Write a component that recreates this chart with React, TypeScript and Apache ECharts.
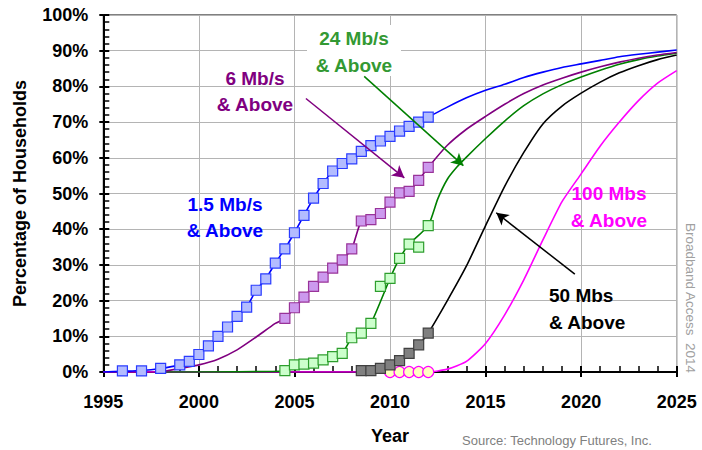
import React, { useEffect, useRef } from "react";
import * as echarts from "echarts";

// ---- Data ----
// 1.5 Mb/s & Above (actual)
const blueYears = [1996, 1997, 1998, 1999, 1999.5, 2000, 2000.5, 2001, 2001.5, 2002, 2002.5, 2003, 2003.5, 2004, 2004.5, 2005, 2005.5, 2006, 2006.5, 2007, 2007.5, 2008, 2008.5, 2009, 2009.5, 2010, 2010.5, 2011, 2011.5, 2012];
const blueVals = [0.3, 0.3, 1, 2, 3, 4.9, 7.3, 10, 12.6, 15.6, 18.2, 22.9, 26.1, 30.5, 34.5, 39, 43.9, 48.7, 52.8, 56.3, 58.4, 59.7, 61.8, 63.4, 64.7, 66, 67.5, 68.8, 70, 71.4];
// 1.5 Mb/s line (actual + forecast)
const blueLineYears = [1995, 1996, 1997, 1998, 1999, 1999.5, 2000, 2000.5, 2001, 2001.5, 2002, 2002.5, 2003, 2003.5, 2004, 2004.5, 2005, 2005.5, 2006, 2006.5, 2007, 2007.5, 2008, 2008.5, 2009, 2009.5, 2010, 2010.5, 2011, 2011.5, 2012, 2013, 2014, 2015, 2016, 2017, 2018, 2019, 2020, 2021, 2022, 2023, 2024, 2025];
const blueLineVals = [0, 0.2, 0.4, 1, 2, 3, 4.9, 7.3, 10, 12.6, 15.6, 18.2, 22.9, 26.1, 30.5, 34.5, 39, 43.9, 48.7, 52.8, 56.3, 58.4, 59.7, 61.8, 63.4, 64.7, 66, 67.5, 68.8, 70, 71.4, 74.2, 76.8, 78.9, 80.6, 82.5, 84, 85.3, 86.3, 87.3, 88.3, 89, 89.6, 90.2];

// 6 Mb/s & Above
const purpleYears = [2004.5, 2005, 2005.5, 2006, 2006.5, 2007, 2007.5, 2008, 2008.5, 2009, 2009.5, 2010, 2010.5, 2011, 2011.5, 2012];
const purpleVals = [15, 18, 21, 24, 26.6, 29.1, 31.4, 34.5, 42.3, 42.7, 44.4, 47.6, 50.2, 50.6, 53.7, 57.3];
const purpleLineYears = [1998, 1999, 2000, 2001, 2002, 2003, 2004, 2004.5, 2005, 2005.5, 2006, 2006.5, 2007, 2007.5, 2008, 2008.5, 2009, 2009.5, 2010, 2010.5, 2011, 2011.5, 2012, 2013, 2014, 2015, 2016, 2017, 2018, 2019, 2020, 2021, 2022, 2023, 2024, 2025];
const purpleLineVals = [0, 1, 2, 3.6, 6.2, 9.8, 13.6, 15, 18, 21, 24, 26.6, 29.1, 31.4, 34.5, 42.3, 42.7, 44.4, 47.6, 50.2, 50.6, 53.7, 57.3, 63.5, 68, 71.6, 75, 78, 80.4, 82.3, 84, 85.5, 86.8, 87.9, 88.8, 89.5];

// 24 Mb/s & Above
const greenYears = [2004.5, 2005, 2005.5, 2006, 2006.5, 2007, 2007.5, 2008, 2008.5, 2009, 2009.5, 2010, 2010.5, 2011, 2011.5, 2012];
const greenVals = [0.4, 2, 2.2, 2.5, 3.4, 4.3, 5.2, 9.6, 10.9, 13.6, 24, 26.2, 31.8, 35.8, 35, 41];
const greenLineYears = [1998, 2004.5, 2005, 2005.5, 2006, 2006.5, 2007, 2007.5, 2008, 2008.5, 2009, 2010, 2010.5, 2011, 2012, 2012.5, 2013, 2013.5, 2014, 2015, 2016, 2017, 2018, 2019, 2020, 2021, 2022, 2023, 2024, 2025];
const greenLineVals = [0, 0.3, 2, 2.2, 2.5, 3.4, 4.3, 5.2, 9.6, 10.9, 13.6, 26.2, 31.8, 35.8, 41, 48.5, 54, 57.4, 60.2, 65.4, 70.3, 74.6, 77.9, 80.5, 82.6, 84.5, 86.2, 87.5, 88.5, 89.3];

// 50 Mbs & Above
const blackYears = [2008.5, 2009, 2009.5, 2010, 2010.5, 2011, 2011.5, 2012];
const blackVals = [0.4, 0.4, 1, 2, 3.2, 5.2, 7.6, 10.9];
const blackLineYears = [2008.5, 2009, 2009.5, 2010, 2010.5, 2011, 2011.5, 2012, 2013, 2014, 2015, 2016, 2017, 2018, 2019, 2020, 2021, 2022, 2023, 2024, 2025];
const blackLineVals = [0.4, 0.4, 1, 2, 3.2, 5.2, 7.6, 10.9, 20, 29.7, 41, 52, 61.5, 69.5, 74.5, 78.1, 81.2, 83.8, 85.8, 87.5, 88.8];

// 100 Mbs & Above
const magentaYears = [2010, 2010.5, 2011, 2011.5, 2012];
const magentaVals = [0, 0, 0, 0, 0];
const magentaLineYears = [1995, 2012, 2013, 2014, 2015, 2016, 2017, 2018, 2019, 2020, 2021, 2022, 2023, 2024, 2025];
const magentaLineVals = [0, 0, 0.8, 3, 8, 16, 25.8, 37, 47.7, 55.5, 63.3, 70, 76, 80.9, 84.4];

// Arrows (data coordinates): [fromYear, fromPct, toYear, toPct]
const arrowPurple = [2005.6, 76.6, 2010.75, 54.4];
const arrowGreen = [2008.65, 82.8, 2013.84, 57.8];
const arrowBlack = [2019.67, 27.4, 2015.56, 44.6];

// Axis
const xMin = 1995;
const xMax = 2025;
const xStep = 5;
const yMin = 0;
const yMax = 100;
const yStep = 10;

const zip = (xs: number[], ys: number[]) => xs.map((x, i) => [x, ys[i]]);

const FONT = "'Liberation Sans', Arial, sans-serif";

export default function App() {
  const ref = useRef<HTMLDivElement>(null);
  useEffect(() => {
    if (!ref.current) return;
    const chart = echarts.init(ref.current, null, { renderer: "svg" });

    const arrow = (a: number[], color: string) => ({
      silent: true,
      symbol: ["none", "arrow"],
      symbolSize: [10, 12],
      label: { show: false },
      lineStyle: { color, width: 1.5, type: "solid" },
      emphasis: { disabled: true },
      data: [[{ coord: [a[0], a[1]] }, { coord: [a[2], a[3]] }]],
    });

    const lineSeries = (name: string, xs: number[], ys: number[], color: string, extra: any = {}) => ({
      name,
      type: "line",
      data: zip(xs, ys),
      showSymbol: false,
      symbol: "none",
      smooth: 0.2,
      lineStyle: { color, width: 1.6 },
      itemStyle: { color },
      z: 2,
      ...extra,
    });

    const markerSeries = (name: string, xs: number[], ys: number[], fill: string, border: string, symbol = "rect") => ({
      name,
      type: "scatter",
      data: zip(xs, ys),
      symbol,
      symbolSize: symbol === "rect" ? 10 : 11,
      itemStyle: { color: fill, borderColor: border, borderWidth: 1.2, opacity: 1 },
      z: 4,
    });

    const option: any = {
      animation: false,
      grid: {
        left: 103.3,
        right: 25.3,
        top: 15,
        bottom: 77,
        show: true,
        borderColor: "#000",
        borderWidth: 1,
        backgroundColor: "transparent",
      },
      xAxis: [
        {
          type: "value",
          min: xMin,
          max: xMax,
          interval: xStep,
          name: "Year",
          nameLocation: "middle",
          nameGap: 55,
          nameTextStyle: { fontSize: 18, fontWeight: "bold", color: "#000", fontFamily: FONT },
          axisLine: { show: true, lineStyle: { color: "#000", width: 2 } },
          axisTick: { show: true, inside: false, length: 5, lineStyle: { color: "#000", width: 2 } },
          axisLabel: {
            fontSize: 18,
            fontWeight: "bold",
            color: "#000",
            fontFamily: FONT,
            margin: 21,
            formatter: (v: number) => String(v),
          },
          splitLine: { show: true, lineStyle: { color: "#b4b4b4", width: 1 } },
        },
        {
          type: "value",
          min: xMin,
          max: xMax,
          interval: xStep,
          position: "bottom",
          axisLine: { show: false },
          axisTick: { show: true, inside: true, length: 6, lineStyle: { color: "#000", width: 2 } },
          minorTick: { show: true, splitNumber: 5, length: 6, lineStyle: { color: "#000", width: 1.5 } },
          axisLabel: { show: false },
          splitLine: { show: false },
        },
      ],
      yAxis: [
        {
          type: "value",
          min: yMin,
          max: yMax,
          interval: yStep,
          name: "Percentage of Households",
          nameLocation: "middle",
          nameGap: 74,
          nameTextStyle: { fontSize: 18, fontWeight: "bold", color: "#000", fontFamily: FONT },
          axisLine: { show: true, lineStyle: { color: "#000", width: 2 } },
          axisTick: { show: true, inside: false, length: 4, lineStyle: { color: "#000", width: 2 } },
          axisLabel: {
            fontSize: 18,
            fontWeight: "bold",
            color: "#000",
            fontFamily: FONT,
            margin: 15,
            formatter: "{value}%",
          },
          splitLine: { show: true, lineStyle: { color: "#b4b4b4", width: 1 } },
        },
        {
          type: "value",
          min: yMin,
          max: yMax,
          interval: yStep,
          position: "left",
          axisLine: { show: false },
          axisTick: { show: true, inside: true, length: 6, lineStyle: { color: "#000", width: 2 } },
          minorTick: { show: true, splitNumber: 5, length: 6, lineStyle: { color: "#000", width: 1.5 } },
          axisLabel: { show: false },
          splitLine: { show: false },
        },
      ],
      series: [
        lineSeries("100 Mbs line", magentaLineYears, magentaLineVals, "#ff00ff"),
        lineSeries("50 Mbs line", blackLineYears, blackLineVals, "#000000", { markLine: arrow(arrowBlack, "#000000") }),
        lineSeries("24 Mb/s line", greenLineYears, greenLineVals, "#008000", { markLine: arrow(arrowGreen, "#008000") }),
        lineSeries("6 Mb/s line", purpleLineYears, purpleLineVals, "#800080", { markLine: arrow(arrowPurple, "#800080") }),
        lineSeries("1.5 Mb/s line", blueLineYears, blueLineVals, "#0000ff"),
        markerSeries("100 Mbs", magentaYears, magentaVals, "#ffffc0", "#ff00ff", "circle"),
        markerSeries("50 Mbs", blackYears, blackVals, "#808080", "#404040"),
        markerSeries("24 Mb/s", greenYears, greenVals, "#ccffcc", "#2e9e2e"),
        markerSeries("6 Mb/s", purpleYears, purpleVals, "#cc99ee", "#993399"),
        markerSeries("1.5 Mb/s", blueYears, blueVals, "#b3bcff", "#2a3cff"),
      ],
      graphic: [
        {
          type: "rect",
          shape: { x: 307, y: 25, width: 94, height: 51 },
          style: { fill: "#ffffff" },
          z: 1,
        },
        {
          type: "text",
          x: 354,
          y: 51.5,
          z: 10,
          style: {
            text: "24 Mb/s\n& Above",
            fill: "#339933",
            font: `bold 19px ${FONT}`,
            textAlign: "center",
            textVerticalAlign: "middle",
            lineHeight: 27,
          },
        },
        {
          type: "text",
          x: 255,
          y: 91.5,
          z: 10,
          style: {
            text: "6 Mb/s\n& Above",
            fill: "#800080",
            font: `bold 19px ${FONT}`,
            textAlign: "center",
            textVerticalAlign: "middle",
            lineHeight: 26,
          },
        },
        {
          type: "text",
          x: 225,
          y: 217.5,
          z: 10,
          style: {
            text: "1.5 Mb/s\n& Above",
            fill: "#0000ff",
            font: `bold 19px ${FONT}`,
            textAlign: "center",
            textVerticalAlign: "middle",
            lineHeight: 26,
          },
        },
        {
          type: "text",
          x: 609,
          y: 206.7,
          z: 10,
          style: {
            text: "100 Mbs\n& Above",
            fill: "#ff00ff",
            font: `bold 19px ${FONT}`,
            textAlign: "center",
            textVerticalAlign: "middle",
            lineHeight: 27,
          },
        },
        {
          type: "text",
          x: 549,
          y: 309,
          z: 10,
          style: {
            text: "50 Mbs\n& Above",
            fill: "#000000",
            font: `bold 19px ${FONT}`,
            textAlign: "left",
            textVerticalAlign: "middle",
            lineHeight: 27,
          },
        },
        {
          type: "text",
          x: 690,
          y: 298,
          rotation: -Math.PI / 2,
          z: 10,
          style: {
            text: "Broadband Access  2014",
            fill: "#a0a0a0",
            font: `13.5px ${FONT}`,
            textAlign: "center",
            textVerticalAlign: "middle",
          },
        },
        {
          type: "text",
          x: 462,
          y: 434,
          z: 10,
          style: {
            text: "Source: Technology Futures, Inc.",
            fill: "#808080",
            font: `13px ${FONT}`,
            textAlign: "left",
            textVerticalAlign: "top",
          },
        },
      ],
    };

    chart.setOption(option);
    return () => chart.dispose();
  }, []);

  return <div ref={ref} style={{ width: 702, height: 450, position: "absolute", left: 0, top: 0 }} />;
}
